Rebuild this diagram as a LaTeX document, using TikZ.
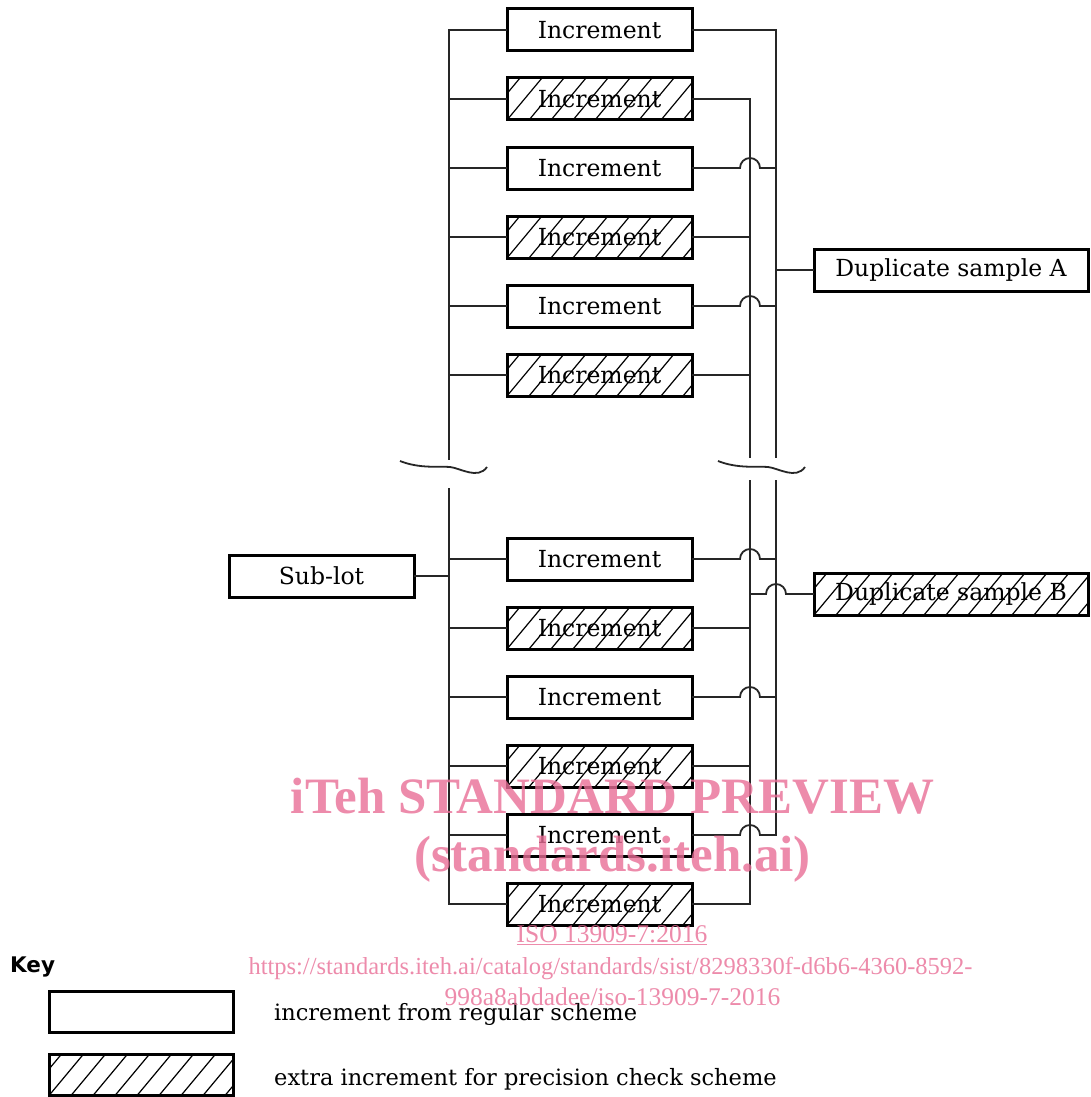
\documentclass[tikz,border=0pt]{standalone}
\usepackage{fontspec}
\setmainfont{DejaVu Serif}
\newfontfamily\keyfont{DejaVu Sans}
\newfontfamily\wmfont{Liberation Serif}
\usepackage{tikz}
\usetikzlibrary{positioning}
\usepackage{xcolor}
\definecolor{wmpink}{RGB}{232,110,150}

\begin{document}
\begin{tikzpicture}[
  x=1pt, y=-1pt, node distance=27pt,
  b/.style={draw, line width=3pt, minimum width=185pt, minimum height=42pt, inner sep=0pt, outer sep=0pt, font=\fontsize{23.5}{26}\selectfont},
  h/.style={b, path picture={\foreach \k in {-2,...,14} \draw[line width=1.2pt] ([xshift=\k*22pt]path picture bounding box.south west) -- ++(35pt,42pt);}},
  l/.style={line width=1.8pt, black!85},
  hop/.style={to path={-- ([xshift=-10pt]\tikztotarget) arc[start angle=180, end angle=0, radius=10pt] -- ([xshift=10pt]\tikztotarget)}},
  wm/.style={text=wmpink, text opacity=.8, inner sep=0pt}
]
\useasboundingbox (0,0) rectangle (1090,1097);

% increments
\node[b] (i1) at (599.5,30) {Increment};
\node[h, below=of i1] (i2) {Increment};
\node[b, below=of i2] (i3) {Increment};
\node[h, below=of i3] (i4) {Increment};
\node[b, below=of i4] (i5) {Increment};
\node[h, below=of i5] (i6) {Increment};
\node[b, below=142pt of i6] (i7) {Increment};
\node[h, below=of i7] (i8) {Increment};
\node[b, below=of i8] (i9) {Increment};
\node[h, below=of i9] (i10) {Increment};
\node[b, below=of i10] (i11) {Increment};
\node[h, below=of i11] (i12) {Increment};

\node[b] (sub) at (321.5,576) {Sub-lot};
\node[b, minimum width=274pt] (dA) at (951,270) {Duplicate sample A};
\node[h, minimum width=274pt] (dB) at (951,594) {Duplicate sample B};

% bus ends at the break
\coordinate (lT) at (449,460); \coordinate (lB) at (449,488);
\coordinate (bT) at (750,458); \coordinate (bB) at (750,480);
\coordinate (aT) at (776,458); \coordinate (aB) at (776,480);

% left side
\draw[l] (i1.west) -| (lT);
\draw[l] (lB) |- (i12.west);
\foreach \n in {2,...,6} \draw[l] (i\n.west) -- (i\n.west -| lT);
\foreach \n in {7,...,11} \draw[l] (i\n.west) -- (i\n.west -| lB);
\draw[l] (sub.east) -- (sub.east -| lB);

% right side
\draw[l] (i1.east) -| (aT);
\draw[l] (i2.east) -| (bT);
\foreach \n in {3,5} \draw[l] (i\n.east) to[hop] (i\n.east -| bT) -- (i\n.east -| aT);
\foreach \n in {4,6} \draw[l] (i\n.east) -- (i\n.east -| bT);
\foreach \n in {7,9} \draw[l] (i\n.east) to[hop] (i\n.east -| bB) -- (i\n.east -| aB);
\foreach \n in {8,10} \draw[l] (i\n.east) -- (i\n.east -| bB);
\draw[l] (i11.east) to[hop] (i11.east -| bB) -| (aB);
\draw[l] (i12.east) -| (bB);
\draw[l] (dA.west) -- (dA.west -| aT);
\draw[l] (dB.west -| bB) to[hop] (dB.west -| aB) -- (dB.west);

% break marks
\draw[l] (400,461) .. controls (420,469) and (440,466) .. (450,467) .. controls (460,468) and (478,480) .. (487,467);
\draw[l] (718,461) .. controls (738,469) and (758,466) .. (768,467) .. controls (778,468) and (796,480) .. (805,467);

% key
\node[anchor=base west, inner sep=0pt, font=\keyfont\bfseries\fontsize{21.5}{22}\selectfont] (key) at (10,972) {Key};
\node[b, minimum width=184pt, minimum height=41pt] (k1) at (141,1011.5) {};
\node[h, minimum width=184pt, minimum height=41pt] (k2) at (141,1075) {};
\node[anchor=base west, inner sep=0pt, font=\fontsize{22.5}{26}\selectfont] (t1) at (274,1020) {increment from regular scheme};
\node[anchor=base west, inner sep=0pt, font=\fontsize{22.5}{26}\selectfont] (t2) at (274,1085) {extra increment for precision check scheme};

% watermark
\node[wm, anchor=base, font=\wmfont\bfseries\fontsize{51}{51}\selectfont] (w1) at (612.5,813) {iTeh STANDARD PREVIEW};
\node[wm, anchor=base, font=\wmfont\bfseries\fontsize{51}{51}\selectfont] (w2) at (612.5,871) {(standards.iteh.ai)};
\node[wm, anchor=base, font=\wmfont\fontsize{25.5}{26}\selectfont] (w3) at (612,942) {\underline{ISO 13909-7:2016}};
\node[wm, anchor=base, font=\wmfont\fontsize{24.5}{26}\selectfont] (w4) at (610.5,974) {https://standards.iteh.ai/catalog/standards/sist/8298330f-d6b6-4360-8592-};
\node[wm, anchor=base, font=\wmfont\fontsize{25.5}{26}\selectfont] (w5) at (612.5,1005) {998a8abdadee/iso-13909-7-2016};
\end{tikzpicture}
\end{document}
